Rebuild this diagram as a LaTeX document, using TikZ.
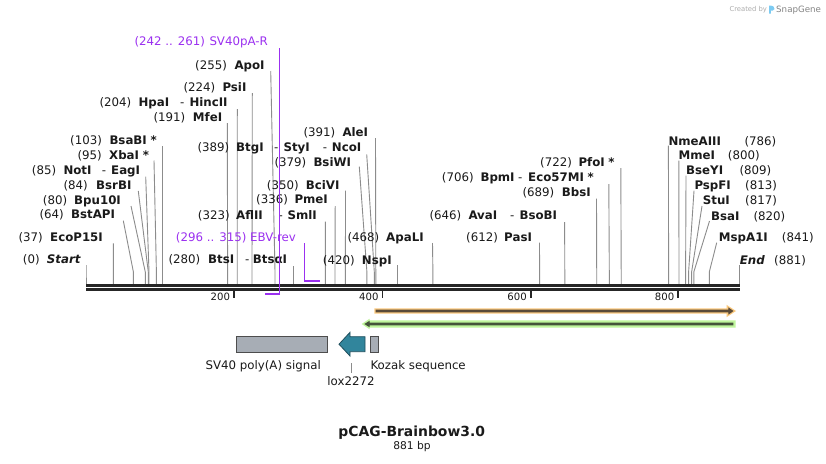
\documentclass[tikz,border=0pt]{standalone}
\usepackage{fontspec}
\setmainfont{DejaVu Sans}
\definecolor{ink}{HTML}{1A1A1A}
\definecolor{sitegray}{HTML}{8C8C8C}
\definecolor{bbcol}{HTML}{262626}
\definecolor{primer}{HTML}{9B30F0}
\definecolor{ohalo}{HTML}{FBC97E}
\definecolor{odark}{HTML}{5A4A38}
\definecolor{ghalo}{HTML}{BFF59C}
\definecolor{gdark}{HTML}{45543A}
\definecolor{loxfill}{HTML}{31859C}
\definecolor{loxline}{HTML}{1F4E5C}
\definecolor{boxfill}{HTML}{A7ADB5}
\definecolor{boxline}{HTML}{4D4D4D}
\definecolor{logoblue}{HTML}{7CCBF2}
\tikzset{
  lab/.style={inner sep=0pt, anchor=base west, text=ink, font=\fontsize{11.8}{14}\selectfont},
  enz/.style={lab, font=\fontsize{11.8}{14}\selectfont\bfseries},
  plab/.style={lab, text=primer},
  site/.style={draw=sitegray, line width=0.9pt},
  strand/.style={draw=bbcol},
  tickmark/.style={draw=bbcol, line width=1.6pt},
  ticklab/.style={inner sep=0pt, anchor=base east, text=ink, font=\fontsize{10.1}{12}\selectfont},
  primerline/.style={draw=primer, line width=1.3pt},
  primerbind/.style={draw=primer, line width=2pt},
  featbox/.style={fill=boxfill, draw=boxline, line width=0.8pt},
  featlab/.style={inner sep=0pt, text=ink, font=\fontsize{11.8}{14}\selectfont},
}
\begin{document}
\begin{tikzpicture}[x=1pt,y=-1pt]
\fill[white] (0,0) rectangle (826,463);
\useasboundingbox (0,0) rectangle (826,463);

% ---------- site lines ----------
\foreach \xt/\yt/\xb [count=\i] in {
  86/265/86, 113.3/243.3/113.4, 123.3/220.7/133.4, 131/206/145.3,
  138.3/191/148.3, 145.7/176.7/149, 154/160.5/156.4, 162.3/146/162.3,
  227.3/123/227.6, 237.3/109/237.2, 252.3/93/252, 270.7/71/275,
  293.5/266/293.5, 325.3/221.7/325.4, 335.2/206/335, 345.5/190.7/345.4,
  359.3/166.7/366.9, 366.7/154.3/374.3, 375.5/138/375.8, 397.3/265/397.3,
  432.5/243/432.9, 539.5/242.7/539.6, 564.6/222/564.8, 596.5/198.5/596.7,
  608.8/184/609.3, 620.8/168/621.2, 668.4/145.5/668.6, 678.8/160.5/679,
  686/175.7/685.6, 694/190.7/688.6, 702/206/691.6, 709.5/221/693.8,
  716.7/242.7/709.3, 739/265/739}
{
  \coordinate (st\i) at (\xt,\yt);
  \coordinate (sk\i) at (\xb,272);
  \coordinate (sb\i) at (\xb,284.3);
  \draw[site] (st\i) -- (sk\i) -- (sb\i);
}

% ---------- backbone ----------
\coordinate (bbtl) at (86,285.8);
\coordinate (bbtr) at (740,285.8);
\coordinate (bbbl) at (86,289.5);
\coordinate (bbbr) at (740,289.5);
\draw[strand, line width=3pt] (bbtl) -- (bbtr);
\draw[strand, line width=2.4pt] (bbbl) -- (bbbr);

% ---------- ticks ----------
\foreach \tx/\tl [count=\i] in {234/200, 382.5/400, 530.7/600, 678.2/800}
{
  \coordinate (tka\i) at (\tx,290.7);
  \coordinate (tkb\i) at (\tx,298.3);
  \draw[tickmark] (tka\i) -- (tkb\i);
  \node[ticklab] (tkl\i) at (\tx-3.8,300.7) {\tl};
}

% ---------- position numbers ----------
\foreach \x/\y/\lbltxt [count=\i] in {
  195/65/{(255)}, 183.3/86.7/{(224)}, 99.3/102.3/{(204)}, 153.3/116.7/{(191)},
  70/140/{(103)}, 77.3/155/{(95)}, 31.7/170/{(85)}, 63.3/184.7/{(84)},
  42.7/200/{(80)}, 39.3/214.3/{(64)}, 18.3/237.3/{(37)}, 22.7/259.3/{(0)},
  168.3/259.3/{(280)}, 197.7/215/{(323)}, 256/199.3/{(336)}, 266.7/185/{(350)},
  274.3/161.7/{(379)}, 197.3/146.7/{(389)}, 303.3/131.7/{(391)}, 322.7/260/{(420)},
  347.3/236.7/{(468)}, 466/236.7/{(612)}, 429.3/215.3/{(646)}, 522.3/192.3/{(689)},
  441.7/176.9/{(706)}, 540/162.3/{(722)},
  744.3/140.7/{(786)}, 727.7/155/{(800)}, 739.3/170/{(809)}, 745/185/{(813)},
  745/200/{(817)}, 753.3/215.7/{(820)}, 781.7/237.3/{(841)}, 774/260/{(881)}}
{
  \node[lab] (num\i) at (\x,\y+4.3) {\lbltxt};
}

% ---------- enzyme names ----------
\foreach \x/\y/\lbltxt [count=\i] in {
  234.3/65/ApoI, 222.3/86.7/PsiI, 138.3/102.3/HpaI, 189.3/102.3/HincII,
  192.7/116.7/MfeI, 109.3/140/BsaBI, 109/155/XbaI, 63.3/170/NotI, 111/170/EagI,
  96/184.7/BsrBI, 74/200/Bpu10I, 71/214.3/BstAPI, 50/237.3/EcoP15I,
  46.7/259.3/{{\itshape Start}}, 208/259.3/BtsI, 252.7/259.3/BtsαI,
  236/215/AflII, 287.3/215/SmlI, 294.3/199.3/PmeI, 305.7/185/BciVI,
  313.3/161.7/BsiWI, 236/146.7/BtgI, 283.3/146.7/StyI, 331.7/146.7/NcoI,
  342.3/131.7/AleI, 361.7/260/NspI, 386/236.7/ApaLI, 504/236.7/PasI,
  468.3/215.3/AvaI, 519.3/215.3/BsoBI, 561.7/192.3/BbsI, 480.3/176.9/BpmI,
  528/176.9/Eco57MI, 578.3/162.3/PfoI,
  668.3/140.7/NmeAIII, 678.3/155/MmeI, 686/170/BseYI, 694.3/185/PspFI,
  702.7/200/StuI, 711/215.7/BsaI, 718.7/237.3/MspA1I, 739.7/260/{{\itshape End}}}
{
  \node[enz] (enz\i) at (\x,\y+4.3) {\lbltxt};
}

% ---------- separators and stars ----------
\foreach \x/\y [count=\i] in {180/102.3, 101.7/170, 245/259.3, 274/146.7,
  322.7/146.7, 278.3/215, 510/215.3, 518/176.9}
{
  \node[lab] (dash\i) at (\x,\y+4.3) {-};
}
\node[enz] (star1) at ([xshift=3.3pt]enz6.base east) {*};
\node[enz] (star2) at ([xshift=3.3pt]enz7.base east) {*};
\node[enz] (star3) at ([xshift=3.3pt]enz34.base east) {*};
\node[enz] (star4) at ([xshift=3.3pt]enz33.base east) {*};

% ---------- primers ----------
\node[plab] (p1num) at (134.3,41+4.3) {(242 .. 261)};
\node[plab] (p1name) at (209.3,41+4.3) {SV40pA-R};
\coordinate (p1top) at (279.5,48.3);
\coordinate (p1bot) at (279.5,293.7);
\coordinate (p1end) at (265,293.7);
\coordinate (p1bend) at (280.1,293.7);
\draw[primerline] (p1top) -- (p1bot);
\draw[primerbind] (p1bend) -- (p1end);

\node[plab] (p2num) at (175.7,237.3+4.3) {(296 .. 315)};
\node[plab] (p2name) at (250,237.3+4.3) {EBV-rev};
\coordinate (p2top) at (304.7,243.3);
\coordinate (p2bot) at (304.7,280.8);
\coordinate (p2bend) at (304.05,280.8);
\coordinate (p2end) at (319.5,280.8);
\draw[primerline] (p2top) -- (p2bot);
\draw[primerbind] (p2bend) -- (p2end);

% ---------- direction bands ----------
\fill[ohalo] (374.3,308.3) -- (726.5,308.3) -- (726.5,304.8) -- (736,311)
  -- (726.5,317.2) -- (726.5,313.7) -- (374.3,313.7) -- cycle;
\fill[odark] (375.5,309.6) -- (728.3,309.6) -- (728.3,307.3) -- (733.5,311)
  -- (728.3,314.7) -- (728.3,312.4) -- (375.5,312.4) -- cycle;
\fill[ghalo] (361.7,324) -- (369.5,318.8) -- (369.5,320.3) -- (735.7,320.3)
  -- (735.7,327.7) -- (369.5,327.7) -- (369.5,329.2) -- cycle;
\fill[gdark] (364.3,324) -- (369.5,320.8) -- (369.5,322.7) -- (733.3,322.7)
  -- (733.3,325.3) -- (369.5,325.3) -- (369.5,327.2) -- cycle;

% ---------- features ----------
\draw[featbox] (236.7,336) rectangle (327.7,352.3);
\draw[fill=loxfill, draw=loxline, line width=0.8pt]
  (339,344.2) -- (350,332.3) -- (350,336.7) -- (365,336.7) -- (365,351.7)
  -- (350,351.7) -- (350,356) -- cycle;
\draw[featbox] (370.3,336.3) rectangle (378.7,352);

\node[featlab, anchor=base east] (sv40lab) at (321,369) {SV40 poly(A) signal};
\node[featlab, anchor=base west] (kozlab) at (370.3,369) {Kozak sequence};
\node[featlab, anchor=base] (loxlab) at (351,385.7) {lox2272};
\coordinate (loxa) at (351,363);
\coordinate (loxb) at (351,373);
\draw[site, line width=0.8pt] (loxa) -- (loxb);

% ---------- title ----------
\node[inner sep=0pt, anchor=base, text=ink, font=\fontsize{13.9}{16}\selectfont\bfseries]
  (title) at (411.7,436.7) {pCAG-Brainbow3.0};
\node[inner sep=0pt, anchor=base, text=ink, font=\fontsize{10.7}{13}\selectfont]
  (size) at (412,449) {881 bp};

% ---------- watermark ----------
\node[inner sep=0pt, anchor=base west, text=black!32, font=\fontsize{6.8}{8}\selectfont]
  (wm1) at (729.3,11.3) {Created by};
\fill[logoblue] (769,13.5) -- (769,5.5) .. controls (773,5.5) and (775,7) .. (774.5,9)
  .. controls (774,10.5) and (772,11) .. (770.8,10.6) -- (770.8,13.5) -- cycle;
\node[inner sep=0pt, anchor=base west, text=black!48, font=\fontsize{8.7}{10}\selectfont]
  (wm2) at (776,12.7) {SnapGene};
\end{tikzpicture}
\end{document}
